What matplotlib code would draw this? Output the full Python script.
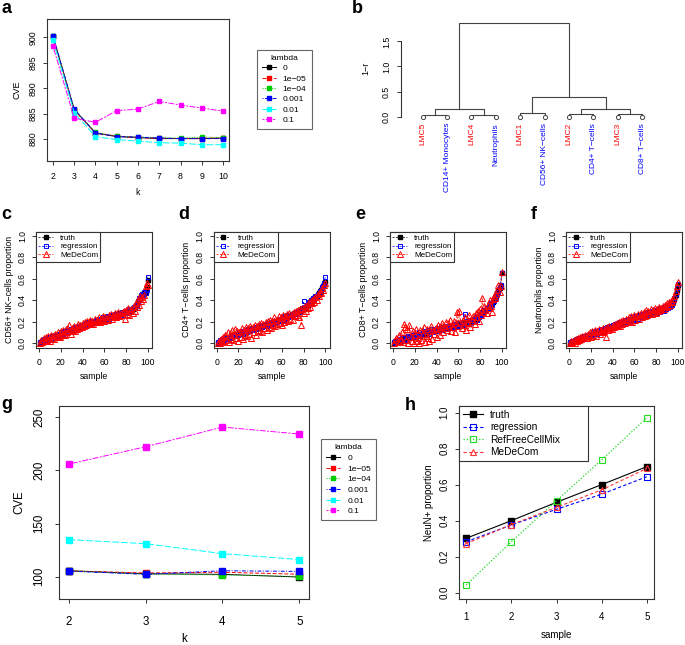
import matplotlib
matplotlib.use('Agg')
import matplotlib.pyplot as plt
from matplotlib.lines import Line2D
import numpy as np

plt.rcParams['font.family'] = ['Liberation Sans', 'DejaVu Sans']

# ---- panel a : CVE vs k for each lambda
k_a = [2, 3, 4, 5, 6, 7, 8, 9, 10]
cve_a_0 = [900.2, 885.8, 881.2, 880.5, 880.3, 880.1, 880.1, 880.1, 880.2]
cve_a_1e5 = [900.1, 885.7, 881.2, 880.6, 880.3, 880.2, 880.1, 880.2, 880.2]
cve_a_1e4 = [900.2, 885.8, 881.3, 880.6, 880.4, 880.3, 880.2, 880.4, 880.3]
cve_a_1e3 = [900.3, 885.9, 881.2, 880.5, 880.4, 880.2, 880.1, 880.1, 880.1]
cve_a_1e2 = [899.4, 885.2, 880.5, 879.9, 879.6, 879.3, 879.2, 878.9, 878.9]
cve_a_1e1 = [898.3, 884.1, 883.3, 885.6, 885.9, 887.4, 886.7, 886.1, 885.5]

# ---- panel b : dendrogram (R hclust style merges)
leaf_names = ['LMC5', 'CD14+ Monocytes', 'LMC4', 'Neutrophils', 'LMC1',
              'CD56+ NK\u2212cells', 'LMC2', 'CD4+ T\u2212cells', 'LMC3', 'CD8+ T\u2212cells']
leaf_cols = ['red', 'blue', 'red', 'blue', 'red', 'blue', 'red', 'blue', 'red', 'blue']
merge_left = [-1, -3, 1, -5, -7, -9, 5, 4, 3]
merge_right = [-2, -4, 2, -6, -8, -10, 6, 7, 8]
merge_height = [0.03, 0.03, 0.147, 0.08, 0.047, 0.06, 0.147, 0.386, 1.86]

# ---- panels c-f : proportions for 100 samples
truth_c = [0.00,0.01,0.02,0.03,0.03,0.04,0.04,0.05,0.05,0.05,
           0.06,0.06,0.06,0.07,0.07,0.07,0.08,0.08,0.09,0.09,
           0.09,0.10,0.10,0.10,0.11,0.11,0.11,0.12,0.12,0.12,
           0.13,0.13,0.14,0.14,0.14,0.15,0.15,0.16,0.16,0.17,
           0.17,0.18,0.18,0.18,0.19,0.19,0.19,0.20,0.20,0.20,
           0.21,0.21,0.21,0.22,0.22,0.22,0.22,0.23,0.23,0.23,
           0.23,0.24,0.24,0.24,0.24,0.25,0.25,0.25,0.25,0.26,
           0.26,0.26,0.27,0.27,0.27,0.28,0.28,0.28,0.29,0.29,
           0.29,0.30,0.30,0.31,0.31,0.32,0.33,0.34,0.35,0.36,
           0.38,0.40,0.42,0.44,0.45,0.46,0.47,0.48,0.52,0.59]
reg_c = [0.01,0.00,0.02,0.04,0.03,0.03,0.05,0.04,0.06,0.05,
         0.05,0.07,0.06,0.06,0.08,0.07,0.07,0.09,0.08,0.10,
         0.09,0.09,0.11,0.10,0.10,0.12,0.11,0.11,0.13,0.12,
         0.12,0.14,0.13,0.15,0.14,0.14,0.16,0.15,0.17,0.16,
         0.18,0.17,0.19,0.18,0.20,0.19,0.18,0.21,0.20,0.19,
         0.21,0.22,0.20,0.22,0.23,0.21,0.23,0.22,0.24,0.23,
         0.22,0.24,0.25,0.23,0.25,0.24,0.26,0.25,0.24,0.27,
         0.26,0.25,0.27,0.28,0.26,0.29,0.27,0.28,0.30,0.28,
         0.29,0.31,0.29,0.32,0.30,0.33,0.34,0.33,0.36,0.35,
         0.39,0.42,0.41,0.45,0.46,0.45,0.48,0.47,0.50,0.62]
med_c = [0.00,0.03,0.01,0.05,0.02,0.06,0.03,0.07,0.04,0.02,
         0.08,0.05,0.07,0.04,0.09,0.06,0.10,0.07,0.06,0.11,
         0.08,0.12,0.09,0.08,0.13,0.10,0.17,0.11,0.09,0.14,
         0.12,0.16,0.11,0.15,0.13,0.18,0.14,0.17,0.15,0.19,
         0.16,0.20,0.17,0.21,0.18,0.20,0.22,0.19,0.21,0.18,
         0.23,0.20,0.22,0.21,0.24,0.20,0.23,0.22,0.25,0.21,
         0.24,0.23,0.22,0.26,0.24,0.27,0.23,0.26,0.25,0.28,
         0.24,0.27,0.29,0.25,0.28,0.26,0.29,0.30,0.23,0.31,
         0.27,0.33,0.26,0.30,0.32,0.28,0.35,0.30,0.37,0.34,
         0.41,0.36,0.44,0.39,0.43,0.41,0.45,0.53,0.56,0.54]

truth_d = [0.00,0.01,0.01,0.02,0.03,0.03,0.04,0.04,0.05,0.05,
           0.05,0.06,0.06,0.07,0.07,0.07,0.08,0.08,0.08,0.09,
           0.09,0.09,0.10,0.10,0.10,0.11,0.11,0.11,0.12,0.12,
           0.12,0.13,0.13,0.13,0.14,0.14,0.14,0.15,0.15,0.15,
           0.16,0.16,0.16,0.17,0.17,0.17,0.18,0.18,0.18,0.19,
           0.19,0.19,0.20,0.20,0.20,0.21,0.21,0.22,0.22,0.22,
           0.23,0.23,0.24,0.24,0.25,0.25,0.25,0.26,0.26,0.27,
           0.27,0.28,0.28,0.29,0.29,0.30,0.30,0.31,0.32,0.32,
           0.33,0.34,0.35,0.36,0.37,0.38,0.39,0.40,0.41,0.42,
           0.43,0.44,0.45,0.47,0.48,0.50,0.51,0.53,0.55,0.57]
reg_d = [0.01,0.00,0.03,0.02,0.04,0.02,0.05,0.04,0.06,0.04,
         0.06,0.05,0.07,0.06,0.08,0.07,0.09,0.07,0.09,0.08,
         0.10,0.09,0.11,0.09,0.11,0.10,0.12,0.10,0.13,0.11,
         0.13,0.12,0.14,0.12,0.15,0.13,0.15,0.14,0.16,0.14,
         0.17,0.15,0.17,0.16,0.18,0.16,0.19,0.17,0.19,0.18,
         0.20,0.18,0.21,0.19,0.21,0.20,0.22,0.21,0.23,0.21,
         0.24,0.22,0.25,0.23,0.26,0.24,0.26,0.25,0.27,0.26,
         0.28,0.27,0.29,0.28,0.30,0.29,0.31,0.30,0.33,0.39,
         0.34,0.33,0.36,0.35,0.38,0.37,0.40,0.39,0.42,0.41,
         0.44,0.43,0.46,0.46,0.49,0.49,0.52,0.53,0.56,0.62]
med_d = [0.00,0.02,0.00,0.04,0.01,0.06,0.02,0.08,0.03,0.10,
         0.01,0.09,0.04,0.12,0.03,0.08,0.13,0.05,0.11,0.02,
         0.10,0.06,0.14,0.04,0.12,0.08,0.15,0.07,0.14,0.09,
         0.16,0.05,0.15,0.10,0.17,0.08,0.16,0.12,0.18,0.11,
         0.19,0.10,0.18,0.14,0.20,0.12,0.21,0.15,0.22,0.14,
         0.21,0.17,0.24,0.16,0.22,0.18,0.25,0.19,0.24,0.17,
         0.26,0.20,0.25,0.22,0.27,0.21,0.28,0.23,0.27,0.22,
         0.29,0.25,0.30,0.26,0.31,0.24,0.32,0.17,0.33,0.28,
         0.35,0.30,0.36,0.33,0.38,0.34,0.39,0.37,0.41,0.38,
         0.43,0.40,0.46,0.44,0.48,0.47,0.51,0.50,0.54,0.56]

truth_e = [0.00,0.01,0.01,0.02,0.02,0.03,0.03,0.03,0.04,0.04,
           0.04,0.05,0.05,0.05,0.06,0.06,0.06,0.06,0.07,0.07,
           0.07,0.07,0.08,0.08,0.08,0.08,0.09,0.09,0.09,0.09,
           0.10,0.10,0.10,0.10,0.11,0.11,0.11,0.11,0.12,0.12,
           0.12,0.12,0.13,0.13,0.13,0.13,0.14,0.14,0.14,0.14,
           0.15,0.15,0.15,0.15,0.16,0.16,0.16,0.16,0.17,0.17,
           0.17,0.17,0.18,0.18,0.18,0.19,0.19,0.19,0.20,0.20,
           0.20,0.21,0.21,0.22,0.22,0.23,0.23,0.24,0.25,0.26,
           0.27,0.28,0.29,0.30,0.31,0.32,0.33,0.34,0.35,0.36,
           0.37,0.38,0.40,0.42,0.44,0.47,0.49,0.51,0.53,0.65]
reg_e = [0.01,0.02,0.00,0.03,0.01,0.04,0.02,0.05,0.03,0.06,
         0.03,0.06,0.04,0.07,0.05,0.07,0.05,0.08,0.06,0.09,
         0.06,0.08,0.07,0.10,0.07,0.09,0.08,0.11,0.08,0.10,
         0.09,0.12,0.09,0.11,0.10,0.13,0.10,0.12,0.11,0.14,
         0.11,0.13,0.12,0.15,0.12,0.14,0.13,0.16,0.13,0.15,
         0.14,0.17,0.14,0.16,0.15,0.18,0.15,0.17,0.16,0.19,
         0.16,0.18,0.17,0.20,0.17,0.27,0.18,0.21,0.19,0.22,
         0.19,0.22,0.20,0.23,0.21,0.24,0.22,0.25,0.24,0.27,
         0.26,0.29,0.28,0.31,0.30,0.33,0.32,0.35,0.34,0.37,
         0.36,0.39,0.39,0.43,0.43,0.46,0.48,0.52,0.54,0.65]
med_e = [0.00,0.03,0.05,0.01,0.08,0.02,0.04,0.10,0.01,0.18,
         0.15,0.03,0.13,0.00,0.17,0.06,0.02,0.11,0.00,0.08,
         0.13,0.02,0.05,0.00,0.12,0.03,0.09,0.15,0.01,0.07,
         0.13,0.05,0.02,0.11,0.16,0.04,0.12,0.09,0.14,0.06,
         0.17,0.13,0.08,0.15,0.19,0.10,0.16,0.14,0.20,0.12,
         0.17,0.22,0.11,0.18,0.15,0.21,0.10,0.19,0.29,0.16,
         0.30,0.20,0.14,0.22,0.17,0.24,0.12,0.20,0.19,0.26,
         0.15,0.23,0.21,0.25,0.18,0.28,0.24,0.30,0.21,0.32,
         0.26,0.42,0.29,0.35,0.31,0.28,0.36,0.33,0.40,0.35,
         0.29,0.41,0.44,0.42,0.46,0.50,0.54,0.48,0.53,0.66]

truth_f = [0.00,0.01,0.01,0.02,0.02,0.03,0.03,0.04,0.04,0.04,
           0.05,0.05,0.06,0.06,0.06,0.07,0.07,0.08,0.08,0.08,
           0.09,0.09,0.09,0.10,0.10,0.10,0.11,0.11,0.11,0.12,
           0.12,0.12,0.13,0.13,0.14,0.14,0.14,0.15,0.15,0.16,
           0.16,0.17,0.17,0.17,0.18,0.18,0.19,0.19,0.19,0.20,
           0.20,0.21,0.21,0.21,0.22,0.22,0.22,0.23,0.23,0.23,
           0.24,0.24,0.24,0.25,0.25,0.25,0.26,0.26,0.26,0.27,
           0.27,0.27,0.28,0.28,0.28,0.29,0.29,0.29,0.30,0.30,
           0.30,0.31,0.31,0.31,0.32,0.32,0.32,0.33,0.33,0.34,
           0.34,0.35,0.35,0.36,0.37,0.38,0.41,0.45,0.50,0.54]
reg_f = [0.01,0.00,0.02,0.01,0.03,0.02,0.04,0.03,0.05,0.04,
         0.04,0.06,0.05,0.07,0.06,0.06,0.08,0.07,0.09,0.08,
         0.08,0.10,0.09,0.11,0.10,0.09,0.12,0.11,0.10,0.13,
         0.12,0.11,0.14,0.13,0.15,0.14,0.13,0.16,0.15,0.17,
         0.16,0.18,0.17,0.16,0.19,0.18,0.20,0.19,0.18,0.21,
         0.20,0.22,0.21,0.20,0.23,0.22,0.21,0.24,0.23,0.22,
         0.25,0.24,0.23,0.26,0.25,0.24,0.27,0.26,0.25,0.28,
         0.27,0.26,0.29,0.28,0.27,0.30,0.29,0.28,0.31,0.29,
         0.28,0.32,0.30,0.29,0.33,0.31,0.30,0.34,0.32,0.35,
         0.33,0.36,0.34,0.37,0.36,0.39,0.42,0.46,0.51,0.55]
med_f = [0.00,0.02,0.01,0.03,0.00,0.04,0.02,0.05,0.03,0.06,
         0.04,0.07,0.05,0.06,0.08,0.05,0.09,0.07,0.10,0.06,
         0.11,0.08,0.10,0.12,0.07,0.11,0.13,0.09,0.12,0.10,
         0.14,0.11,0.13,0.06,0.15,0.12,0.16,0.14,0.13,0.17,
         0.15,0.18,0.16,0.19,0.17,0.20,0.16,0.21,0.18,0.22,
         0.19,0.23,0.20,0.22,0.24,0.21,0.25,0.20,0.24,0.26,
         0.22,0.25,0.27,0.23,0.26,0.28,0.24,0.27,0.29,0.25,
         0.31,0.26,0.30,0.28,0.32,0.27,0.31,0.29,0.33,0.28,
         0.32,0.30,0.34,0.31,0.33,0.35,0.32,0.36,0.34,0.37,
         0.35,0.38,0.36,0.39,0.38,0.41,0.44,0.49,0.53,0.57]

# ---- panel g : CVE vs k (second data set)
k_g = [2, 3, 4, 5]
cve_g_0 = [105.6, 102.8, 102.2, 99.7]
cve_g_1e5 = [105.5, 103.5, 104.2, 102.3]
cve_g_1e4 = [105.5, 102.5, 101.6, 100.2]
cve_g_1e3 = [105.3, 102.2, 105.6, 105.0]
cve_g_1e2 = [134.9, 131.1, 121.7, 116.1]
cve_g_1e1 = [206.0, 222.3, 240.9, 234.3]

lambda_labels = ['0', '1e\u221205', '1e\u221204', '0.001', '0.01', '0.1']
lam_colors = ['black', 'red', '#00CD00', 'blue', 'cyan', 'magenta']
lam_styles = ['-', (0, (4, 2)), (0, (1, 1.5)), (0, (1, 1.5, 4, 1.5)), (0, (7, 2)), (0, (2, 1.5, 6, 1.5))]

# ---- panel h : NeuN+ proportion in 5 samples
sample_h = [1, 2, 3, 4, 5]
truth_h = [0.302, 0.400, 0.502, 0.600, 0.700]
reg_h = [0.283, 0.376, 0.463, 0.547, 0.644]
rfcm_h = [0.043, 0.283, 0.511, 0.737, 0.972]
med_h = [0.272, 0.378, 0.474, 0.571, 0.690]

W, H = 685, 645
fig = plt.figure(figsize=(W / 100, H / 100), dpi=100)
EDGE = '#333333'


def add_ax(l, t, r, b):
    return fig.add_axes([l / W, 1 - b / H, (r - l) / W, (b - t) / H])


def r_style(ax, fs, xpad=4.5, ypad=3.5):
    for s in ax.spines.values():
        s.set_color(EDGE)
        s.set_linewidth(0.8)
    ax.tick_params(direction='out', length=3, width=0.7, color=EDGE, labelsize=fs)
    ax.tick_params(axis='x', pad=xpad)
    ax.tick_params(axis='y', labelrotation=90, pad=ypad)
    plt.setp(ax.get_yticklabels(), va='center')


def panel_letter(x, y, s):
    fig.text(x / W, 1 - y / H, s, fontsize=13, fontweight='bold', va='baseline', ha='left')


# ===== a
axa = add_ax(47, 19, 229, 161)
a_series = [cve_a_0, cve_a_1e5, cve_a_1e4, cve_a_1e3, cve_a_1e2, cve_a_1e1]
for vals, col, ls in zip(a_series, lam_colors, lam_styles):
    axa.plot(k_a, vals, color=col, ls=ls, lw=0.7, marker='s', ms=3.2)
axa.set_xlim(1.72, 10.28)
axa.set_ylim(875.7, 903.6)
axa.set_xticks(k_a)
axa.set_yticks([880, 885, 890, 895, 900])
r_style(axa, 6.3, xpad=5, ypad=4)
axa.set_xlabel('k', fontsize=6.3, labelpad=5)
axa.set_ylabel('CVE', fontsize=6.5, labelpad=5)
handles = [Line2D([], [], color=c, ls=s, lw=0.7, marker='s', ms=3.2) for c, s in zip(lam_colors, lam_styles)]
leg = fig.legend(handles, lambda_labels, title='lambda', fontsize=6, title_fontsize=6,
                 loc='upper left', bbox_to_anchor=(257 / W, 1 - 50 / H), borderaxespad=0,
                 fancybox=False, edgecolor='#666666', handlelength=1.7, handletextpad=0.8,
                 labelspacing=0.3, borderpad=0.6, framealpha=1)
leg.get_frame().set_linewidth(0.8)
panel_letter(1, 13, 'a')

# ===== b
axb = add_ax(400.8, 19.6, 664, 120.4)
leaf_pos = np.arange(1, len(leaf_names) + 1)
node_x, node_h = {}, {}


def child(c):
    if c < 0:
        return leaf_pos[-c - 1], 0.0
    return node_x[c], node_h[c]


for i, (l, r, h) in enumerate(zip(merge_left, merge_right, merge_height), start=1):
    xl, hl = child(l)
    xr, hr = child(r)
    axb.plot([xl, xl, xr, xr], [hl, h, h, hr], color='#444444', lw=0.8)
    node_x[i] = (xl + xr) / 2
    node_h[i] = h
axb.plot(leaf_pos, np.zeros(len(leaf_pos)), 'o', mfc='white', mec='#444444', ms=3, mew=0.7)
for x, name, col in zip(leaf_pos, leaf_names, leaf_cols):
    axb.annotate(name, (x, 0), xytext=(0, -4.5), textcoords='offset points', rotation=90,
                 ha='center', va='top', color=col, fontsize=6)
axb.set_xlim(0.1, 10.9)
axb.set_ylim(-0.0744, 1.934)
for side in ['top', 'right', 'bottom']:
    axb.spines[side].set_visible(False)
axb.set_xticks([])
axb.set_yticks([0.0, 0.5, 1.0, 1.5])
axb.set_yticklabels(['0.0', '0.5', '1.0', '1.5'])
r_style(axb, 6.3, ypad=4)
axb.spines['left'].set_bounds(0, 1.5)
axb.set_ylabel('1\u2212r', fontsize=6.5)
axb.yaxis.set_label_coords(-0.115, 0.52)
panel_letter(352, 13.3, 'b')

# ===== c - f
sample = np.arange(1, 101)
panels = [
    (36, 'c', truth_c, reg_c, med_c, 'CD56+ NK\u2212cells proportion'),
    (213.5, 'd', truth_d, reg_d, med_d, 'CD4+ T\u2212cells proportion'),
    (390, 'e', truth_e, reg_e, med_e, 'CD8+ T\u2212cells proportion'),
    (566, 'f', truth_f, reg_f, med_f, 'Neutrophils proportion'),
]
for left, letter, tr, rg, md, ylab in panels:
    ax = add_ax(left, 231.5, left + 116, 347.5)
    dash = (0, (3, 2))
    ax.plot(sample, tr, color='black', ls=dash, lw=0.5, marker='s', ms=2.6, label='truth')
    ax.plot(sample, rg, color='blue', ls=dash, lw=0.5, marker='s', ms=3.4, mfc='none', mew=0.7,
            label='regression')
    ax.plot(sample, md, color='red', ls=dash, lw=0.5, marker='^', ms=3.9, mfc='none', mew=0.7,
            label='MeDeCom')
    ax.set_xlim(-2.96, 103.96)
    ax.set_ylim(-0.04, 1.04)
    ax.set_xticks([0, 20, 40, 60, 80, 100])
    ax.set_yticks([0.0, 0.2, 0.4, 0.6, 0.8, 1.0])
    ax.set_yticklabels(['0.0', '0.2', '0.4', '0.6', '0.8', '1.0'])
    r_style(ax, 6.2, xpad=4.5, ypad=3.5)
    ax.set_xlabel('sample', fontsize=6.3, labelpad=4)
    ax.set_ylabel(ylab, fontsize=6.3, labelpad=3)
    lg = ax.legend(loc='upper left', bbox_to_anchor=(0, 1, 64 / 116, 0), mode='expand',
                   borderaxespad=0, fontsize=5.8, fancybox=False, edgecolor=EDGE,
                   handlelength=1.8, handletextpad=0.9, labelspacing=0.15, borderpad=0.3,
                   framealpha=1)
    lg.get_frame().set_linewidth(0.8)
    panel_letter(left - 35, 219, letter)

# ===== g
axg = add_ax(59.3, 405.7, 308.7, 599)
g_series = [cve_g_0, cve_g_1e5, cve_g_1e4, cve_g_1e3, cve_g_1e2, cve_g_1e1]
for vals, col, ls in zip(g_series, lam_colors, lam_styles):
    axg.plot(k_g, vals, color=col, ls=ls, lw=0.7, marker='s', ms=4.5)
axg.set_xlim(1.88, 5.12)
axg.set_ylim(79, 261)
axg.set_xticks(k_g)
axg.set_yticks([100, 150, 200, 250])
r_style(axg, 8.3, xpad=9, ypad=7)
axg.set_xlabel('k', fontsize=8.3, labelpad=3.5)
axg.set_ylabel('CVE', fontsize=8.3, labelpad=6)
handles = [Line2D([], [], color=c, ls=s, lw=0.7, marker='s', ms=3.2) for c, s in zip(lam_colors, lam_styles)]
leg = fig.legend(handles, lambda_labels, title='lambda', fontsize=6, title_fontsize=6,
                 loc='upper left', bbox_to_anchor=(321.3 / W, 1 - 439.3 / H), borderaxespad=0,
                 fancybox=False, edgecolor='#666666', handlelength=1.7, handletextpad=0.8,
                 labelspacing=0.34, borderpad=0.6, framealpha=1)
leg.get_frame().set_linewidth(0.8)
panel_letter(1, 409, 'g')

# ===== h
axh = add_ax(459, 406, 654, 599.3)
axh.plot(sample_h, truth_h, color='black', ls='-', lw=0.8, marker='s', ms=4.2, label='truth')
axh.plot(sample_h, reg_h, color='blue', ls=(0, (3, 2)), lw=0.8, marker='s', ms=4.5, mfc='none',
         mew=0.8, label='regression')
axh.plot(sample_h, rfcm_h, color='#22DD22', ls=(0, (1, 1.5)), lw=0.9, marker='s', ms=4.5, mfc='none',
         mew=0.8, label='RefFreeCellMix')
axh.plot(sample_h, med_h, color='#FF3333', ls=(0, (3, 2)), lw=0.8, marker='^', ms=5, mfc='none',
         mew=0.8, label='MeDeCom')
axh.set_xlim(0.84, 5.16)
axh.set_ylim(-0.037, 1.037)
axh.set_xticks(sample_h)
axh.set_yticks([0.0, 0.2, 0.4, 0.6, 0.8, 1.0])
axh.set_yticklabels(['0.0', '0.2', '0.4', '0.6', '0.8', '1.0'])
r_style(axh, 7, xpad=6, ypad=4)
axh.set_xlabel('sample', fontsize=7, labelpad=6)
axh.set_ylabel('NeuN+ proportion', fontsize=7, labelpad=4)
lg = axh.legend(loc='upper left', bbox_to_anchor=(0, 1, 128.7 / 195, 0), mode='expand',
                borderaxespad=0, fontsize=7.3, fancybox=False, edgecolor=EDGE,
                handlelength=2.0, handletextpad=0.7, labelspacing=0.25, borderpad=0.35,
                framealpha=1)
lg.get_frame().set_linewidth(0.8)
panel_letter(405, 410, 'h')

fig.savefig('out.png', dpi=100)
